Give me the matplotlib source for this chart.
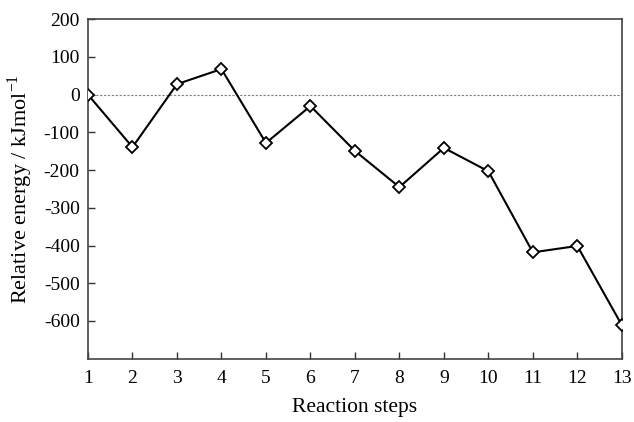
import numpy as np
import matplotlib.pyplot as plt

plt.rcParams['font.family'] = ['Liberation Serif', 'DejaVu Serif']
plt.rcParams['axes.unicode_minus'] = False

steps = [1, 2, 3, 4, 5, 6, 7, 8, 9, 10, 11, 12, 13]
energy = [0, -139, 28, 68, -128, -30, -149, -245, -141, -203, -418, -401, -611]
yticks = [200, 100, 0, -100, -200, -300, -400, -500, -600]

f = plt.figure(figsize=(6.34, 4.22), dpi=100)
ax = f.add_axes([0.1388, 0.15, 0.842, 0.8043])
ax.axhline(0, color='gray', linestyle=(0, (2, 1.5)), linewidth=0.8, zorder=1)
ax.plot(steps, energy, color='black', linewidth=1.5, marker='D', markersize=6.5,
        markerfacecolor='white', markeredgecolor='black', markeredgewidth=1.3, zorder=3)
ax.set_xlim(1, 13)
ax.set_ylim(-700, 200)
ax.set_xticks(steps)
ax.set_yticks(yticks)
ax.tick_params(direction='in', length=5, width=1, labelsize=14, colors='#333333', labelcolor='black')
ax.tick_params(axis='x', pad=8)
ax.tick_params(axis='y', pad=6)
for s in ax.spines.values():
    s.set_color('#444444')
    s.set_linewidth(1.2)
ax.set_xlabel('Reaction steps', fontsize=15.5, labelpad=8)
ax.set_ylabel(r'Relative energy / kJmol$^{\mathregular{-1}}$', fontsize=16, labelpad=6)
f.savefig('out.png', dpi=100)
plt.close()
